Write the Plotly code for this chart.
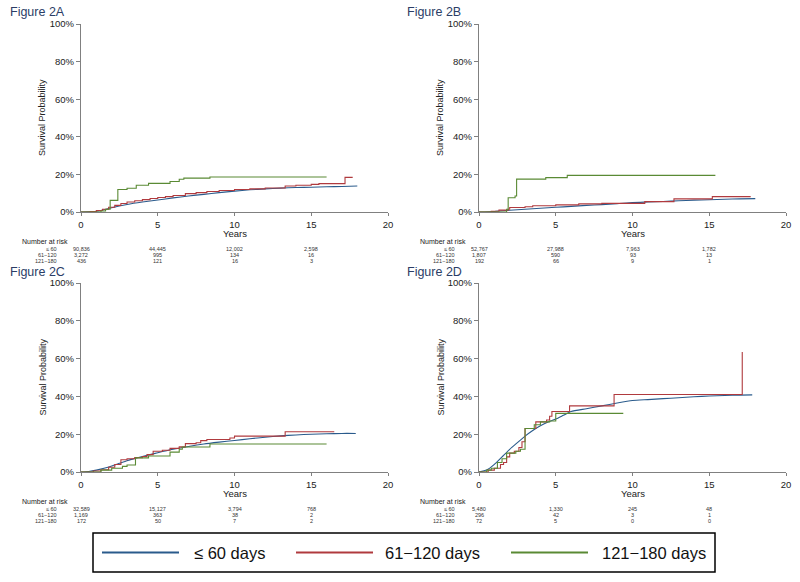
import plotly.graph_objects as go

W, H = 800, 582

# ---------------- data ----------------
groups = ["≤ 60 days", "61−120 days", "121−180 days"]
row_labels = ["≤ 60", "61−120", "121−180"]
colors = ["#2a5b8c", "#b03a3e", "#5a8a34"]
risk_times = [0, 5, 10, 15]
y_ticks = [0, 20, 40, 60, 80, 100]
y_tick_labels = ["0%", "20%", "40%", "60%", "80%", "100%"]
x_ticks = [0, 5, 10, 15, 20]

# Panel A
blue_A_t = [0, 0.5, 1, 1.5, 2, 3, 4, 5, 6, 7, 8, 9, 10, 11, 12, 13, 14, 15, 16, 17, 18]
blue_A_v = [0, 0.1, 0.4, 1.2, 2.3, 4.0, 5.3, 6.4, 7.5, 8.5, 9.4, 10.3, 11.1, 11.8, 12.3, 12.7, 13.0, 13.2, 13.4, 13.6, 13.8]
red_A_t = [0, 0.6, 1.0, 1.4, 1.8, 2.2, 2.6, 3.0, 3.5, 4.0, 4.5, 5.0, 5.5, 6.0, 6.8, 7.5, 8.2, 9.0, 10.0, 11.0, 12.0, 13.3, 14.0, 15.0, 15.5, 17.2, 17.7]
red_A_v = [0, 0.3, 0.8, 1.5, 2.5, 3.5, 4.5, 5.3, 6.0, 6.6, 7.2, 7.7, 8.2, 8.8, 9.8, 10.3, 10.9, 11.4, 12.0, 12.3, 12.8, 13.8, 14.2, 14.7, 15.1, 18.4, 18.4]
green_A_t = [0, 1.3, 1.6, 1.9, 2.4, 3.0, 3.6, 4.4, 5.8, 6.4, 6.7, 8.4, 16.0]
green_A_v = [0, 0.5, 1.5, 6.2, 12.0, 12.6, 14.2, 15.2, 16.2, 17.4, 18.0, 18.6, 18.6]
risk_A = [["90,836", "44,445", "12,002", "2,598"],
          ["3,272", "995", "134", "16"],
          ["436", "121", "16", "3"]]

# Panel B
blue_B_t = [0, 1, 2, 3, 4, 5, 6, 7, 8, 9, 10, 11, 12, 13, 14, 15, 16, 17, 18]
blue_B_v = [0, 0.3, 0.9, 1.5, 2.0, 2.5, 3.0, 3.5, 3.9, 4.4, 5.0, 5.3, 5.6, 6.0, 6.3, 6.5, 6.8, 7.0, 7.1]
red_B_t = [0, 0.8, 1.3, 1.9, 2.0, 3.0, 3.5, 5.0, 6.5, 8.0, 10.8, 12.7, 15.2, 17.7]
red_B_v = [0, 0.4, 1.0, 1.5, 2.4, 2.8, 3.3, 3.8, 4.3, 4.6, 5.5, 7.0, 8.2, 8.2]
green_B_t = [0, 1.8, 1.9, 2.35, 2.45, 4.35, 5.75, 15.4]
green_B_v = [0, 1.5, 7.6, 8.5, 17.5, 18.3, 19.5, 19.5]
risk_B = [["52,767", "27,988", "7,963", "1,782"],
          ["1,807", "590", "93", "13"],
          ["192", "66", "9", "1"]]

# Panel C
blue_C_t = [0, 0.5, 1, 1.5, 2, 2.5, 3, 3.5, 4, 4.5, 5, 6, 7, 8, 9, 10, 11, 12, 13, 14, 15, 16, 17, 17.9]
blue_C_v = [0, 0.3, 1.0, 2.0, 3.2, 4.6, 6.0, 7.1, 8.2, 9.2, 10.2, 12.0, 13.5, 14.8, 15.8, 16.7, 17.6, 18.4, 19.1, 19.6, 20.0, 20.2, 20.4, 20.4]
red_C_t = [0, 0.8, 1.3, 1.8, 2.2, 2.6, 3.0, 3.5, 4.0, 4.3, 4.7, 5.3, 5.8, 6.4, 6.8, 7.5, 7.8, 8.2, 9.7, 10.0, 13.3, 16.5]
red_C_v = [0, 0.5, 1.2, 2.5, 4.0, 6.5, 7.0, 7.6, 8.2, 9.2, 11.0, 11.5, 12.5, 13.3, 15.0, 15.5, 16.6, 17.2, 18.0, 19.0, 21.3, 21.3]
green_C_t = [0, 1.3, 2.0, 2.7, 3.0, 3.55, 4.4, 5.8, 6.4, 6.6, 8.4, 16.0]
green_C_v = [0, 1.0, 2.0, 3.0, 3.7, 7.5, 8.5, 10.5, 12.0, 13.2, 14.8, 14.8]
risk_C = [["32,589", "15,127", "3,794", "768"],
          ["1,169", "363", "38", "2"],
          ["172", "50", "7", "2"]]

# Panel D
blue_D_t = [0, 0.5, 1, 1.5, 2, 2.5, 3, 3.5, 4, 4.5, 5, 5.5, 6, 7, 8, 9, 10, 11, 12, 13, 14, 15, 16, 17, 17.8]
blue_D_v = [0, 1.0, 4.0, 8.0, 12.0, 15.5, 19.0, 22.0, 24.5, 26.5, 28.0, 30.0, 32.0, 33.5, 35.0, 36.5, 37.8, 38.3, 38.8, 39.3, 39.8, 40.2, 40.5, 40.7, 40.8]
red_D_t = [0, 0.6, 1.0, 1.4, 1.6, 1.8, 2.0, 2.3, 2.6, 2.8, 3.0, 3.7, 4.4, 4.6, 4.75, 5.9, 8.8, 17.15]
red_D_v = [0, 1, 2, 4, 5, 8, 10, 11, 13, 16, 23, 26.5, 27.5, 29.5, 32, 35, 41, 63.5]
green_D_t = [0, 0.5, 0.8, 1.2, 1.5, 1.8, 2.4, 2.7, 3.0, 3.6, 4.0, 4.6, 5.0, 9.4]
green_D_v = [0, 1, 2, 5, 7, 10, 11, 12, 23, 25, 26.5, 27, 31, 31]
risk_D = [["5,480", "1,330", "245", "48"],
          ["296", "42", "3", "1"],
          ["72", "5", "0", "0"]]

panel_titles = ["Figure 2A", "Figure 2B", "Figure 2C", "Figure 2D"]

# ---------------- layout geometry (pixels) ----------------
def py(p):
    return 1 - p / H

panels = [
    dict(title=panel_titles[0], x0=81, x1=388, ytop=24, ybot=212, tx=8, ty=12,
         curves=[(blue_A_t, blue_A_v), (red_A_t, red_A_v), (green_A_t, green_A_v)], risk=risk_A, rlx=20, rlr=59),
    dict(title=panel_titles[1], x0=479, x1=786, ytop=24, ybot=212, tx=405, ty=12,
         curves=[(blue_B_t, blue_B_v), (red_B_t, red_B_v), (green_B_t, green_B_v)], risk=risk_B, rlx=418, rlr=457),
    dict(title=panel_titles[2], x0=81, x1=388, ytop=283, ybot=472, tx=8, ty=271.5,
         curves=[(blue_C_t, blue_C_v), (red_C_t, red_C_v), (green_C_t, green_C_v)], risk=risk_C, rlx=20, rlr=59),
    dict(title=panel_titles[3], x0=479, x1=786, ytop=283, ybot=472, tx=405, ty=271.5,
         curves=[(blue_D_t, blue_D_v), (red_D_t, red_D_v), (green_D_t, green_D_v)], risk=risk_D, rlx=418, rlr=457),
]

FONT = "Liberation Sans, Arial, sans-serif"
fig = go.Figure()
annotations = []
shapes = []
layout = dict(width=W, height=H, margin=dict(l=0, r=0, t=0, b=0, autoexpand=False),
              paper_bgcolor="white", plot_bgcolor="white", showlegend=False,
              font=dict(family=FONT, color="#222222"))

for i, p in enumerate(panels):
    n = "" if i == 0 else str(i + 1)
    xa, ya = "x" + n, "y" + n
    for g, (t, v) in enumerate(p["curves"]):
        smooth = (g == 0)
        fig.add_trace(go.Scatter(
            x=t, y=v, xaxis=xa, yaxis=ya, mode="lines", name=groups[g],
            line=dict(color=colors[g], width=1.1, shape="spline" if smooth else "hv",
                      smoothing=0.6 if smooth else None),
            hoverinfo="skip"))
    layout["xaxis" + n] = dict(
        domain=[p["x0"] / W, p["x1"] / W], anchor=ya, range=[0, 20], automargin=False,
        tickmode="array", tickvals=x_ticks, ticks="outside", ticklen=3, tickcolor="#808080",
        showline=True, linecolor="#808080", linewidth=1.2, showgrid=False, zeroline=False,
        tickfont=dict(size=9.5, color="#222222"))
    layout["yaxis" + n] = dict(
        domain=[py(p["ybot"]), py(p["ytop"])], anchor=xa, range=[0, 100], automargin=False,
        tickmode="array", tickvals=y_ticks, ticktext=y_tick_labels, ticks="outside", ticklen=4,
        tickcolor="#808080", showline=True, linecolor="#808080", linewidth=1.2,
        showgrid=False, zeroline=False, tickfont=dict(size=9.5, color="#222222"))
    # panel title
    annotations.append(dict(text=p["title"], x=p["tx"] / W, y=py(p["ty"]), xref="paper", yref="paper",
                            xanchor="left", yanchor="middle", showarrow=False,
                            font=dict(size=12.5, color="#2b3d66")))
    # axis titles
    annotations.append(dict(text="Years", x=10, xref=xa, y=py(p["ybot"] + 21), yref="paper",
                            xanchor="center", yanchor="middle", showarrow=False,
                            font=dict(size=9.5, color="#222222")))
    annotations.append(dict(text="Survival Probability", x=(p["x0"] - 39) / W, xref="paper",
                            y=py((p["ytop"] + p["ybot"]) / 2), yref="paper", textangle=-90,
                            xanchor="center", yanchor="middle", showarrow=False,
                            font=dict(size=9, color="#222222")))
    # risk table
    annotations.append(dict(text="Number at risk", x=p["rlx"] / W, y=py(p["ybot"] + 29.5), xref="paper",
                            yref="paper", xanchor="left", yanchor="middle", showarrow=False,
                            font=dict(size=7, color="#222222")))
    for r in range(3):
        yy = py(p["ybot"] + 37 + 6 * r)
        annotations.append(dict(text=row_labels[r], x=p["rlr"] / W, y=yy, xref="paper", yref="paper",
                                xanchor="right", yanchor="middle", showarrow=False,
                                font=dict(size=5.5, color="#333333")))
        for c, tt in enumerate(risk_times):
            annotations.append(dict(text=p["risk"][r][c], x=tt, xref=xa, y=yy, yref="paper",
                                    xanchor="center", yanchor="middle", showarrow=False,
                                    font=dict(size=5.5, color="#333333")))

# custom legend box
shapes.append(dict(type="rect", xref="paper", yref="paper", x0=93 / W, x1=715 / W,
                   y0=py(572), y1=py(533), line=dict(color="black", width=1.5), fillcolor="white"))
leg_line_x = [(102, 179), (296, 373), (511, 588)]
leg_text_x = [192, 383, 600]
for g in range(3):
    shapes.append(dict(type="line", xref="paper", yref="paper", x0=leg_line_x[g][0] / W,
                       x1=leg_line_x[g][1] / W, y0=py(552.5), y1=py(552.5),
                       line=dict(color=colors[g], width=2)))
    annotations.append(dict(text=groups[g], x=leg_text_x[g] / W, y=py(552.5), xref="paper", yref="paper",
                            xanchor="left", yanchor="middle", showarrow=False,
                            font=dict(size=16.5, color="#111111")))

layout["annotations"] = annotations
layout["shapes"] = shapes
fig.update_layout(**layout)
fig.write_html("out.html", config={"displayModeBar": False},
               post_script="document.body.style.margin='0';document.body.style.overflow='hidden';")
